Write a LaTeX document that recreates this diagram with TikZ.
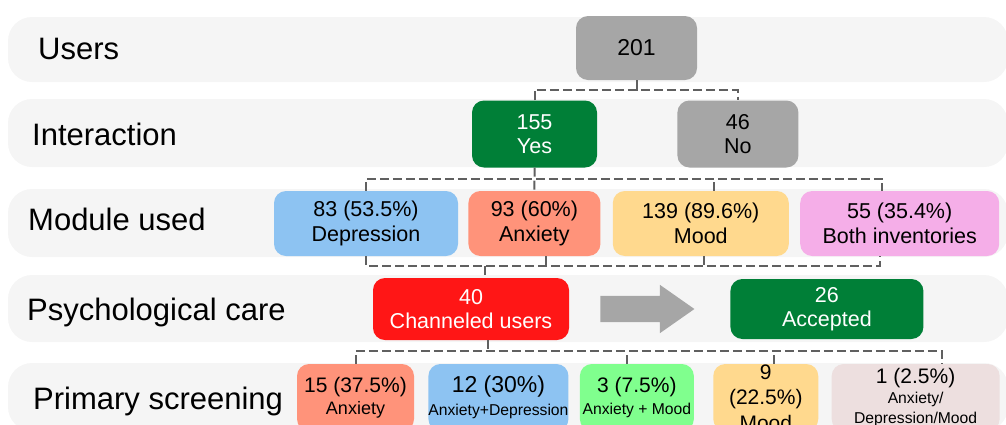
\documentclass[tikz,border=0pt]{standalone}
\usepackage{fontspec}
\setmainfont{Liberation Sans}
\usepackage{xcolor}
\usetikzlibrary{shapes.arrows,positioning,calc}
\definecolor{bandgray}{HTML}{F5F5F5}
\definecolor{boxgray}{HTML}{A6A6A6}
\definecolor{okgreen}{HTML}{007F37}
\definecolor{depblue}{HTML}{8DC3F2}
\definecolor{anxsalmon}{HTML}{FF937A}
\definecolor{moodyellow}{HTML}{FFD98E}
\definecolor{bothpink}{HTML}{F5AEE8}
\definecolor{chanred}{HTML}{FF1616}
\definecolor{mixgreen}{HTML}{80FF8E}
\definecolor{mixrose}{HTML}{EDDFDF}
\definecolor{linegray}{HTML}{606060}
\newcommand{\lblsize}{\fontsize{31}{37}\selectfont}
\newcommand{\boxsize}{\fontsize{21.5}{24.5}\selectfont}
\newcommand{\subsize}{\fontsize{15.7}{18}\selectfont}

\begin{document}
\begin{tikzpicture}[
  x=1pt, y=-1pt,
  node distance=10pt and 10pt,
  band/.style={fill=bandgray, rounded corners=24pt, minimum width=1000pt,
               inner sep=0pt},
  lbl/.style={anchor=base west, font=\lblsize, inner sep=0pt},
  box/.style={rounded corners=12pt, minimum height=65pt, align=center,
              font=\boxsize, inner sep=0pt},
  whitebox/.style={box, text=white},
  conn/.style={draw=linegray, line width=2pt, dash pattern=on 9pt off 4pt}
]
\useasboundingbox (0,0) rectangle (1006,424);
\clip (0,0) rectangle (1006,424);

% row bands
\node[band, minimum height=65pt] (busers)  at (508,49.5) {};
\node[band, minimum height=68pt] (binter)  at (508,133)  {};
\node[band, minimum height=68pt] (bmodule) at (508,223)  {};
\node[band, minimum height=67pt] (bcare)   at (508,308.5) {};
\node[band, minimum height=68pt] (bscreen) at (508,397)  {};

\node[lbl] (lusers)  at (38,59.5)  {Users};
\node[lbl] (linter)  at (32,145.5) {Interaction};
\node[lbl] (lmodule) at (28,230.5) {Module used};
\node[lbl] (lcare)   at (27,320.5) {Psychological care};
\node[lbl] (lscreen) at (33,409)   {Primary screening};

% boxes
\node[box, fill=boxgray, minimum width=121pt, minimum height=64pt,
      font=\fontsize{23}{26}\selectfont] (n201) at (636.5,48) {201};
\node[whitebox, fill=okgreen, minimum width=125pt, minimum height=67pt] (yes) at (534.5,134) {155\\Yes};
\node[box, fill=boxgray, minimum width=121pt, minimum height=67pt, right=80pt of yes] (no) {46\\No};

\node[box, fill=depblue, minimum width=184pt] (dep) at (366,223.5) {83 (53.5\%)\\Depression};
\node[box, fill=anxsalmon, minimum width=132pt, right=10pt of dep] (anx) {93 (60\%)\\Anxiety};
\node[box, fill=moodyellow, minimum width=176pt, right=12pt of anx] (mood) {139 (89.6\%)\\Mood};
\node[box, fill=bothpink, minimum width=199pt, right=11pt of mood] (both) {55 (35.4\%)\\Both inventories};

\node[whitebox, fill=chanred, minimum width=196pt, minimum height=62pt] (chan) at (471,309) {40\\Channeled users};
\node[whitebox, fill=okgreen, minimum width=193pt, minimum height=60pt, right=161pt of chan] (acc) {26\\Accepted};
\node[single arrow, fill=boxgray, minimum height=94pt, minimum width=48pt,
      single arrow head extend=11pt, single arrow tip angle=70,
      inner xsep=0pt, inner ysep=13pt] (push) at (638,309) {};

\node[box, fill=anxsalmon, minimum width=117pt, minimum height=67pt, font=\fontsize{21}{22}\selectfont] (s1) at (355.5,397.5)
  {15 (37.5\%)\\{\fontsize{18}{21}\selectfont Anxiety}};
\node[box, fill=depblue, minimum width=140pt, minimum height=67pt, font=\fontsize{23}{23}\selectfont, right=14pt of s1] (s2)
  {12 (30\%)\\{\subsize Anxiety+Depression}};
\node[box, fill=mixgreen, minimum width=114pt, minimum height=67pt, font=\fontsize{21}{22}\selectfont, right=11pt of s2] (s3)
  {3 (7.5\%)\\{\subsize Anxiety + Mood}};
\node[box, fill=moodyellow, minimum width=105pt, minimum height=67pt, font=\fontsize{21}{25.5}\selectfont, right=19pt of s3] (s4)
  {9\\(22.5\%)\\Mood};
\node[box, fill=mixrose, minimum width=168pt, minimum height=67pt, font=\fontsize{21}{20}\selectfont, right=13pt of s4] (s5)
  {1 (2.5\%)\\{\subsize Anxiety/}\\{\subsize Depression/Mood}};

% connectors
\coordinate (bus1) at ($(n201.south)+(0,9.5)$);
\draw[conn] (n201.south) -- (bus1);
\draw[conn] (yes.north) |- (bus1) -| (no.north);

\coordinate (bus2) at ($(yes.south)+(0,11)$);
\draw[conn] (dep.north) |- ([xshift=-17.5pt]both.north |- bus2) -- ([xshift=-17.5pt]both.north);
\draw[conn] (yes.south) -- (bus2) -- (anx.north);
\draw[conn] ([xshift=13pt]mood.north) -- ([xshift=13pt]mood.north |- bus2);

\coordinate (bus3) at ($(chan.north)+(14,-12)$);
\draw[conn] (dep.south) |- ([xshift=-19.5pt]both.south |- bus3) -- ([xshift=-19.5pt]both.south);
\draw[conn] ([xshift=12pt]anx.south) -- ([xshift=12pt]anx.south |- bus3);
\draw[conn] ([xshift=3pt]mood.south) -- ([xshift=3pt]mood.south |- bus3);
\draw[conn] (bus3) -- ([xshift=14pt]chan.north);

\coordinate (bus4) at ($(chan.south)+(17,11)$);
\draw[conn] ([xshift=17pt]chan.south) -- (bus4);
\draw[conn] (s1.north) |- ([xshift=26pt]s5.north |- bus4) -- ([xshift=26pt]s5.north);
\draw[conn] ([xshift=-10pt]s3.north) -- ([xshift=-10pt]s3.north |- bus4);
\draw[conn] ([xshift=8.5pt]s4.north) -- ([xshift=8.5pt]s4.north |- bus4);
\end{tikzpicture}
\end{document}
